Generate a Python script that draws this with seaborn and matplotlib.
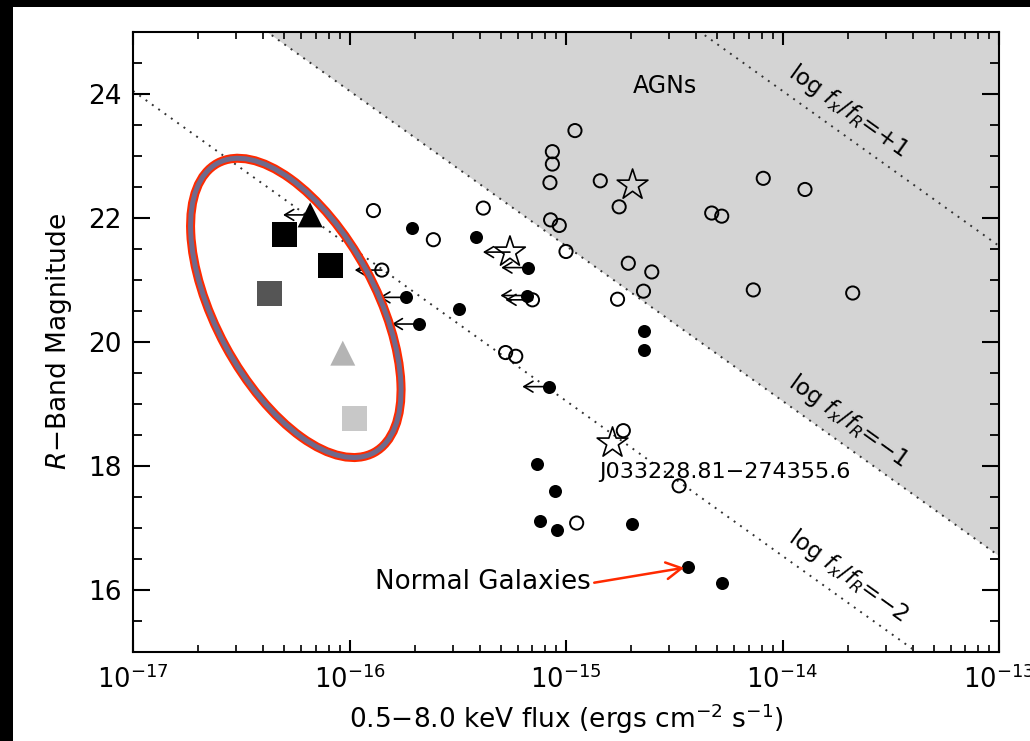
import numpy as np
import matplotlib
matplotlib.use("Agg")
import matplotlib.pyplot as plt
import matplotlib.transforms as mtransforms
from matplotlib.patches import Ellipse, Rectangle
from matplotlib.ticker import MultipleLocator, LogLocator, NullFormatter
import seaborn as sns

# ---------------------------------------------------------------------------
# Sources: 0.5-8 keV X-ray flux (erg cm^-2 s^-1) and R-band magnitude
# ---------------------------------------------------------------------------
open_flux = [1.29e-16, 4.15e-16, 2.44e-16, 1.41e-16, 7.00e-16, 5.26e-16, 5.86e-16,
             1.10e-15, 8.65e-16, 8.65e-16, 8.43e-16, 1.44e-15, 1.76e-15, 8.49e-16,
             9.31e-16, 1.00e-15, 1.94e-15, 2.49e-15, 2.28e-15, 1.73e-15, 4.71e-15,
             5.24e-15, 8.15e-15, 1.27e-14, 7.33e-15, 2.11e-14, 1.84e-15, 1.12e-15,
             3.33e-15]
open_rmag = [22.12, 22.16, 21.65, 21.16, 20.68, 19.83, 19.77,
             23.41, 23.07, 22.87, 22.57, 22.60, 22.18, 21.97,
             21.88, 21.46, 21.27, 21.13, 20.82, 20.69, 22.08,
             22.03, 22.64, 22.46, 20.84, 20.79, 18.57, 17.08,
             17.68]
open_limit = [False, False, False, True, True, False, False,
              False, False, False, False, False, False, False,
              False, False, False, False, False, False, False,
              False, False, False, False, False, False, False,
              False]

filled_flux = [1.94e-16, 3.83e-16, 1.83e-16, 2.09e-16, 3.21e-16, 6.70e-16, 6.64e-16,
               2.29e-15, 2.29e-15, 8.38e-16, 7.33e-16, 8.89e-16, 7.59e-16, 9.12e-16,
               2.02e-15, 3.67e-15, 5.27e-15]
filled_rmag = [21.84, 21.69, 20.72, 20.29, 20.53, 21.20, 20.75,
               20.17, 19.87, 19.28, 18.03, 17.60, 17.11, 16.97,
               17.06, 16.37, 16.12]
filled_limit = [False, False, True, True, False, True, True,
                False, False, True, False, False, False, False,
                False, False, False]

star_flux = [5.51e-16, 2.03e-15, 1.64e-15]
star_rmag = [21.45, 22.53, 18.37]
star_limit = [True, False, False]

square_flux = [5.00e-17, 8.13e-17, 4.25e-17, 1.06e-16]
square_rmag = [21.73, 21.24, 20.79, 18.77]
square_color = ["#000000", "#000000", "#555555", "#c8c8c8"]

tri_flux = [6.58e-17, 9.31e-17]
tri_rmag = [22.05, 19.82]
tri_color = ["#000000", "#b4b4b4"]
tri_limit = [True, False]

# constant log(fx/fR) loci
ratio_levels = [1, -1, -2]
ratio_names = ["+1", "\u22121", "\u22122"]
RATIO_ZP = 5.38

highlight_name = "J033228.81\u2212274355.6"
highlighted_galaxy = (3.67e-15, 16.37)

# ---------------------------------------------------------------------------
sns.set_style("ticks")
plt.rcParams.update({
    "font.family": ["DejaVu Sans"],
    "mathtext.fontset": "dejavusans",
    "axes.linewidth": 1.5,
    "axes.edgecolor": "black",
    "axes.labelcolor": "black",
    "xtick.direction": "in",
    "ytick.direction": "in",
    "xtick.top": True,
    "ytick.right": True,
    "xtick.color": "black",
    "ytick.color": "black",
    "xtick.labelcolor": "black",
    "ytick.labelcolor": "black",
    "text.color": "black",
})

W, H = 1030, 741
fig = plt.figure(figsize=(W / 100, H / 100), dpi=100, facecolor="black")
fig.add_artist(Rectangle((13 / W, 0), 1 - 13 / W, (H - 7) / H,
                         transform=fig.transFigure, facecolor="white",
                         edgecolor="none", zorder=-10))
ax = fig.add_axes([133 / W, (H - 652) / H, 866 / W, 620 / H])
ax.set_facecolor("white")
ax.set_xscale("log")
ax.set_xlim(1e-17, 1e-13)
ax.set_ylim(15, 25)


def ratio_rmag(flux, level):
    return 2.5 * (level - np.log10(flux) - RATIO_ZP)


xs = np.logspace(-17, -13, 600)
# AGN zone: above the log(fx/fR) = -1 locus
ax.fill_between(xs, np.clip(ratio_rmag(xs, -1), 15, 25), 25,
                color="#d4d4d4", lw=0, zorder=0)
for lvl in ratio_levels:
    ax.plot(xs, ratio_rmag(xs, lvl), ls=(0, (1, 3)), color="#333333",
            lw=1.4, zorder=1)

# on-screen slope of the loci, for the rotated labels
p1 = ax.transData.transform((1e-15, ratio_rmag(1e-15, 0)))
p2 = ax.transData.transform((1e-14, ratio_rmag(1e-14, 0)))
angle = np.degrees(np.arctan2(p2[1] - p1[1], p2[0] - p1[0]))
label_flux = 2.01e-14
for lvl, name in zip(ratio_levels, ratio_names):
    ax.text(label_flux, ratio_rmag(label_flux, lvl) + 0.44,
            r"log $f_x/f_R$=" + name, rotation=angle, rotation_mode="anchor",
            ha="center", va="center", fontsize=16.5, zorder=2)

# upper limits in X-ray flux
ARROW_DEX = 0.125


def draw_limits(flux, rmag, flags):
    for f, r, flag in zip(flux, rmag, flags):
        if flag:
            ax.annotate("", xy=(f / 10 ** ARROW_DEX, r), xytext=(f, r),
                        arrowprops=dict(arrowstyle="->,head_length=0.5,head_width=0.3",
                                        lw=1.2, color="black", shrinkA=0, shrinkB=0,
                                        mutation_scale=13),
                        zorder=2)


draw_limits(open_flux, open_rmag, open_limit)
draw_limits(filled_flux, filled_rmag, filled_limit)
draw_limits(star_flux, star_rmag, star_limit)
draw_limits(tri_flux, tri_rmag, tri_limit)

sns.scatterplot(x=open_flux, y=open_rmag, marker="o", s=90, color="black",
                facecolor="none", edgecolor="black", linewidth=1.4, ax=ax, zorder=3)
sns.scatterplot(x=filled_flux, y=filled_rmag, marker="o", s=88, color="black",
                edgecolor="black", linewidth=0, ax=ax, zorder=3)
sns.scatterplot(x=star_flux, y=star_rmag, marker="*", s=540, color="black",
                facecolor="none", edgecolor="black", linewidth=1.2, ax=ax, zorder=3)
sns.scatterplot(x=square_flux, y=square_rmag, hue=square_color,
                palette={c: c for c in square_color}, marker="s", s=324,
                linewidth=0, legend=False, ax=ax, zorder=3)
sns.scatterplot(x=tri_flux, y=tri_rmag, hue=tri_color,
                palette={c: c for c in tri_color}, marker="^", s=324,
                linewidth=0, legend=False, ax=ax, zorder=3)

# ring around the optically bright, X-ray faint group
ell_center = (5.65e-17, 20.55)
ell_trans = fig.dpi_scale_trans + mtransforms.ScaledTranslation(
    ell_center[0], ell_center[1], ax.transData)
for lw, col in [(6.5, "#ff2a00"), (3.6, "#6f6a8c")]:
    ax.add_patch(Ellipse((0, 0), width=3.29, height=1.60, angle=-61.6,
                         transform=ell_trans, fill=False, lw=lw, ec=col,
                         zorder=5))

# annotations
ax.text(2.87e-15, 24.13, "AGNs", fontsize=17, ha="center", va="center", zorder=4)
ax.text(5.42e-15, 17.91, highlight_name, fontsize=16, ha="center", va="center",
        zorder=4)
ax.annotate("Normal Galaxies", xy=highlighted_galaxy, xytext=(4.14e-16, 16.13),
            fontsize=18.8, ha="center", va="center", zorder=4,
            arrowprops=dict(arrowstyle="->,head_length=0.55,head_width=0.3",
                            color="#ff2a00", lw=1.8, mutation_scale=20,
                            shrinkA=0, shrinkB=3, relpos=(1.0, 0.45)))

# axes decoration
ax.set_yticks([16, 18, 20, 22, 24])
ax.yaxis.set_minor_locator(MultipleLocator(0.5))
ax.xaxis.set_major_locator(LogLocator(base=10, numticks=10))
ax.xaxis.set_minor_locator(LogLocator(base=10, subs=np.arange(2, 10), numticks=40))
ax.xaxis.set_minor_formatter(NullFormatter())
ax.tick_params(axis="y", which="major", length=12, width=1.5, labelsize=19, pad=8)
ax.tick_params(axis="y", which="minor", length=6.5, width=1.3)
ax.tick_params(axis="x", which="major", length=9, width=1.5, labelsize=18.5, pad=10)
ax.tick_params(axis="x", which="minor", length=5, width=1.2)
for sp in ax.spines.values():
    sp.set_visible(True)
    sp.set_linewidth(1.5)
    sp.set_zorder(6)

ax.set_xlabel("0.5\u22128.0 keV flux (ergs cm$^{-2}$ s$^{-1}$)", fontsize=19,
              labelpad=5)
ax.set_ylabel("$R$\u2212Band Magnitude", fontsize=19, labelpad=10)

fig.savefig("out.png", dpi=100, facecolor=fig.get_facecolor())
